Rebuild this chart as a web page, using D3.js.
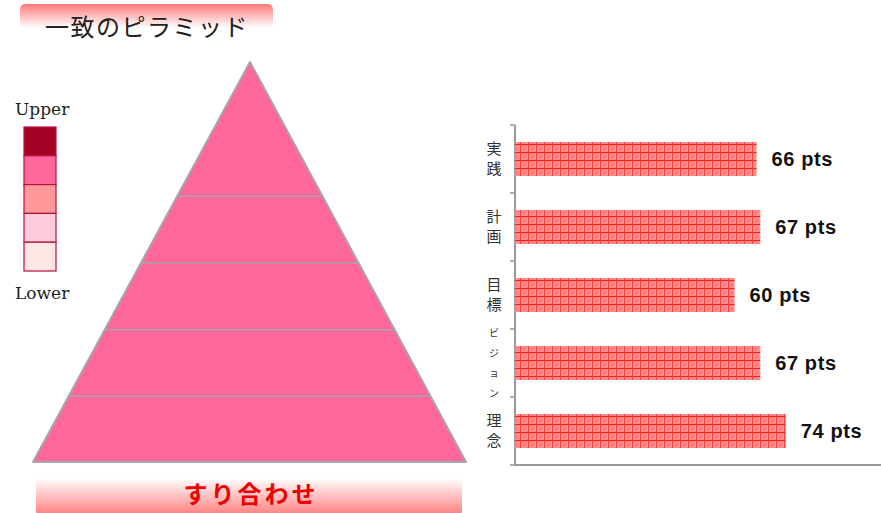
<!DOCTYPE html>
<html>
<head>
<meta charset="utf-8">
<script src="https://cdn.jsdelivr.net/npm/d3@7"></script>
<style>
  body { margin: 0; background: #fff; }
  svg { display: block; }
</style>
</head>
<body>
<div id="container"></div>
<script>
const width = 881,
  height = 513;

/* DATA */
const categories = ["実践", "計画", "目標", "ビジョン", "理念"];
const values = [66, 67, 60, 67, 74];
const pyramidLevels = [2, 1, 1, 1, 1]; // relative heights, top to bottom
const legendColors = ["#a50026", "#ff6699", "#ff9999", "#ffccdd", "#ffe6e6"];
const legendLabels = ["Upper", "Lower"];
const titleText = "一致のピラミッド";
const footerText = "すり合わせ";

const svg = d3.select("#container")
  .append("svg")
  .attr("width", width)
  .attr("height", height);

const defs = svg.append("defs");

// gradients for title / footer boxes
const gTop = defs.append("linearGradient").attr("id", "gTop")
  .attr("x1", 0).attr("y1", 0).attr("x2", 0).attr("y2", 1);
gTop.append("stop").attr("offset", "0%").attr("stop-color", "#ff7a7a");
gTop.append("stop").attr("offset", "100%").attr("stop-color", "#ffffff");

const gBot = defs.append("linearGradient").attr("id", "gBot")
  .attr("x1", 0).attr("y1", 0).attr("x2", 0).attr("y2", 1);
gBot.append("stop").attr("offset", "0%").attr("stop-color", "#ffffff");
gBot.append("stop").attr("offset", "100%").attr("stop-color", "#ff7a7a");

// bar hatch pattern
const pat = defs.append("pattern").attr("id", "grid")
  .attr("patternUnits", "userSpaceOnUse")
  .attr("width", 8).attr("height", 8);
pat.append("rect").attr("width", 8).attr("height", 8).attr("fill", "#ff8a8a");
pat.append("rect").attr("x", 0).attr("y", 0).attr("width", 8).attr("height", 1).attr("fill", "#ff1a1a");
pat.append("rect").attr("x", 0).attr("y", 0).attr("width", 1).attr("height", 8).attr("fill", "#ff4040");
pat.append("rect").attr("x", 4).attr("y", 4).attr("width", 1).attr("height", 1).attr("fill", "#ff5050");

/* TITLE */
svg.append("rect")
  .attr("x", 20).attr("y", 4).attr("width", 253).attr("height", 24)
  .attr("rx", 5)
  .attr("fill", "url(#gTop)");
svg.append("text")
  .attr("x", 147).attr("y", 36)
  .attr("text-anchor", "middle")
  .attr("font-family", "Noto Sans CJK JP")
  .attr("font-size", 24)
  .attr("letter-spacing", 1.5)
  .attr("fill", "#222")
  .text(titleText);

/* PYRAMID */
const apex = { x: 250, y: 62 },
  baseY = 462, baseLeft = 33, baseRight = 466;
const total = d3.sum(pyramidLevels);
const pyY = d3.scaleLinear().domain([0, total]).range([apex.y, baseY]);
const halfW = d3.scaleLinear().domain([apex.y, baseY]).range([0, (baseRight - baseLeft) / 2]);
const cumul = d3.cumsum(pyramidLevels);

svg.append("path")
  .attr("d", `M${apex.x},${apex.y} L${baseRight},${baseY} L${baseLeft},${baseY} Z`)
  .attr("fill", "#ff6699")
  .attr("stroke", "#a6a6a6")
  .attr("stroke-width", 2)
  .attr("stroke-linejoin", "round");

svg.selectAll(".pyline")
  .data(cumul.slice(0, -1))
  .join("line")
  .attr("x1", d => apex.x - halfW(pyY(d)))
  .attr("x2", d => apex.x + halfW(pyY(d)))
  .attr("y1", d => pyY(d) + 1)
  .attr("y2", d => pyY(d) + 1)
  .attr("stroke", "#a6a6a6")
  .attr("stroke-width", 1.5);

/* FOOTER */
svg.append("rect")
  .attr("x", 36).attr("y", 478).attr("width", 426).attr("height", 38)
  .attr("rx", 5)
  .attr("fill", "url(#gBot)");
svg.append("text")
  .attr("x", 251).attr("y", 503)
  .attr("text-anchor", "middle")
  .attr("font-family", "Noto Sans CJK JP")
  .attr("font-weight", "bold")
  .attr("font-size", 24)
  .attr("letter-spacing", 3)
  .attr("fill", "#ee0000")
  .text(footerText);

/* LEGEND */
const legY = d3.scaleBand().domain(d3.range(legendColors.length)).range([127, 271]);
svg.selectAll(".leg")
  .data(legendColors)
  .join("rect")
  .attr("x", 24)
  .attr("y", (d, i) => legY(i))
  .attr("width", 32)
  .attr("height", legY.bandwidth())
  .attr("fill", d => d)
  .attr("stroke", "#b5123f")
  .attr("stroke-width", 1.2);

svg.selectAll(".legtxt")
  .data(legendLabels)
  .join("text")
  .attr("x", 15)
  .attr("y", (d, i) => i === 0 ? 115 : 299)
  .attr("font-family", "DejaVu Serif")
  .attr("font-size", 17)
  .attr("fill", "#222")
  .text(d => d);

/* BAR CHART */
const xScale = d3.scaleLinear().domain([0, 100]).range([515, 881]);
const yScale = d3.scaleBand().domain(categories).range([125, 465]).paddingInner(0.5).paddingOuter(0.25);
const bandStep = yScale.step();

// axes
svg.append("line")
  .attr("x1", 515).attr("x2", 515).attr("y1", 125).attr("y2", 466)
  .attr("stroke", "#999").attr("stroke-width", 2);
svg.append("line")
  .attr("x1", 514).attr("x2", 881).attr("y1", 465).attr("y2", 465)
  .attr("stroke", "#999").attr("stroke-width", 2);
svg.selectAll(".ytick")
  .data(d3.range(categories.length + 1))
  .join("line")
  .attr("x1", 510).attr("x2", 515)
  .attr("y1", i => 125 + i * bandStep)
  .attr("y2", i => 125 + i * bandStep)
  .attr("stroke", "#999").attr("stroke-width", 1.5);

svg.selectAll(".bar")
  .data(values)
  .join("rect")
  .attr("x", xScale(0))
  .attr("y", (d, i) => yScale(categories[i]))
  .attr("width", d => xScale(d) - xScale(0))
  .attr("height", yScale.bandwidth())
  .attr("fill", "url(#grid)");

svg.selectAll(".val")
  .data(values)
  .join("text")
  .attr("x", d => xScale(d) + 15)
  .attr("y", (d, i) => yScale(categories[i]) + yScale.bandwidth() / 2 + 7)
  .attr("font-family", "Liberation Sans")
  .attr("font-weight", "bold")
  .attr("font-size", 20)
  .attr("letter-spacing", 0.6)
  .attr("fill", "#111")
  .text(d => `${d} pts`);

// vertical category labels
svg.selectAll(".cat")
  .data(categories)
  .join("text")
  .attr("font-family", "Noto Sans CJK JP")
  .attr("font-size", d => d.length > 2 ? 10 : 15)
  .attr("fill", "#333")
  .attr("text-anchor", "middle")
  .each(function(d) {
    const chars = Array.from(d);
    const cy = yScale(d) + yScale.bandwidth() / 2;
    const step = 20;
    const fs = d.length > 2 ? 10 : 15;
    d3.select(this).selectAll("tspan")
      .data(chars)
      .join("tspan")
      .attr("x", 494)
      .attr("y", (c, j) => cy + (j - (chars.length - 1) / 2) * step + fs * 0.36)
      .text(c => c);
  });
</script>
</body>
</html>
